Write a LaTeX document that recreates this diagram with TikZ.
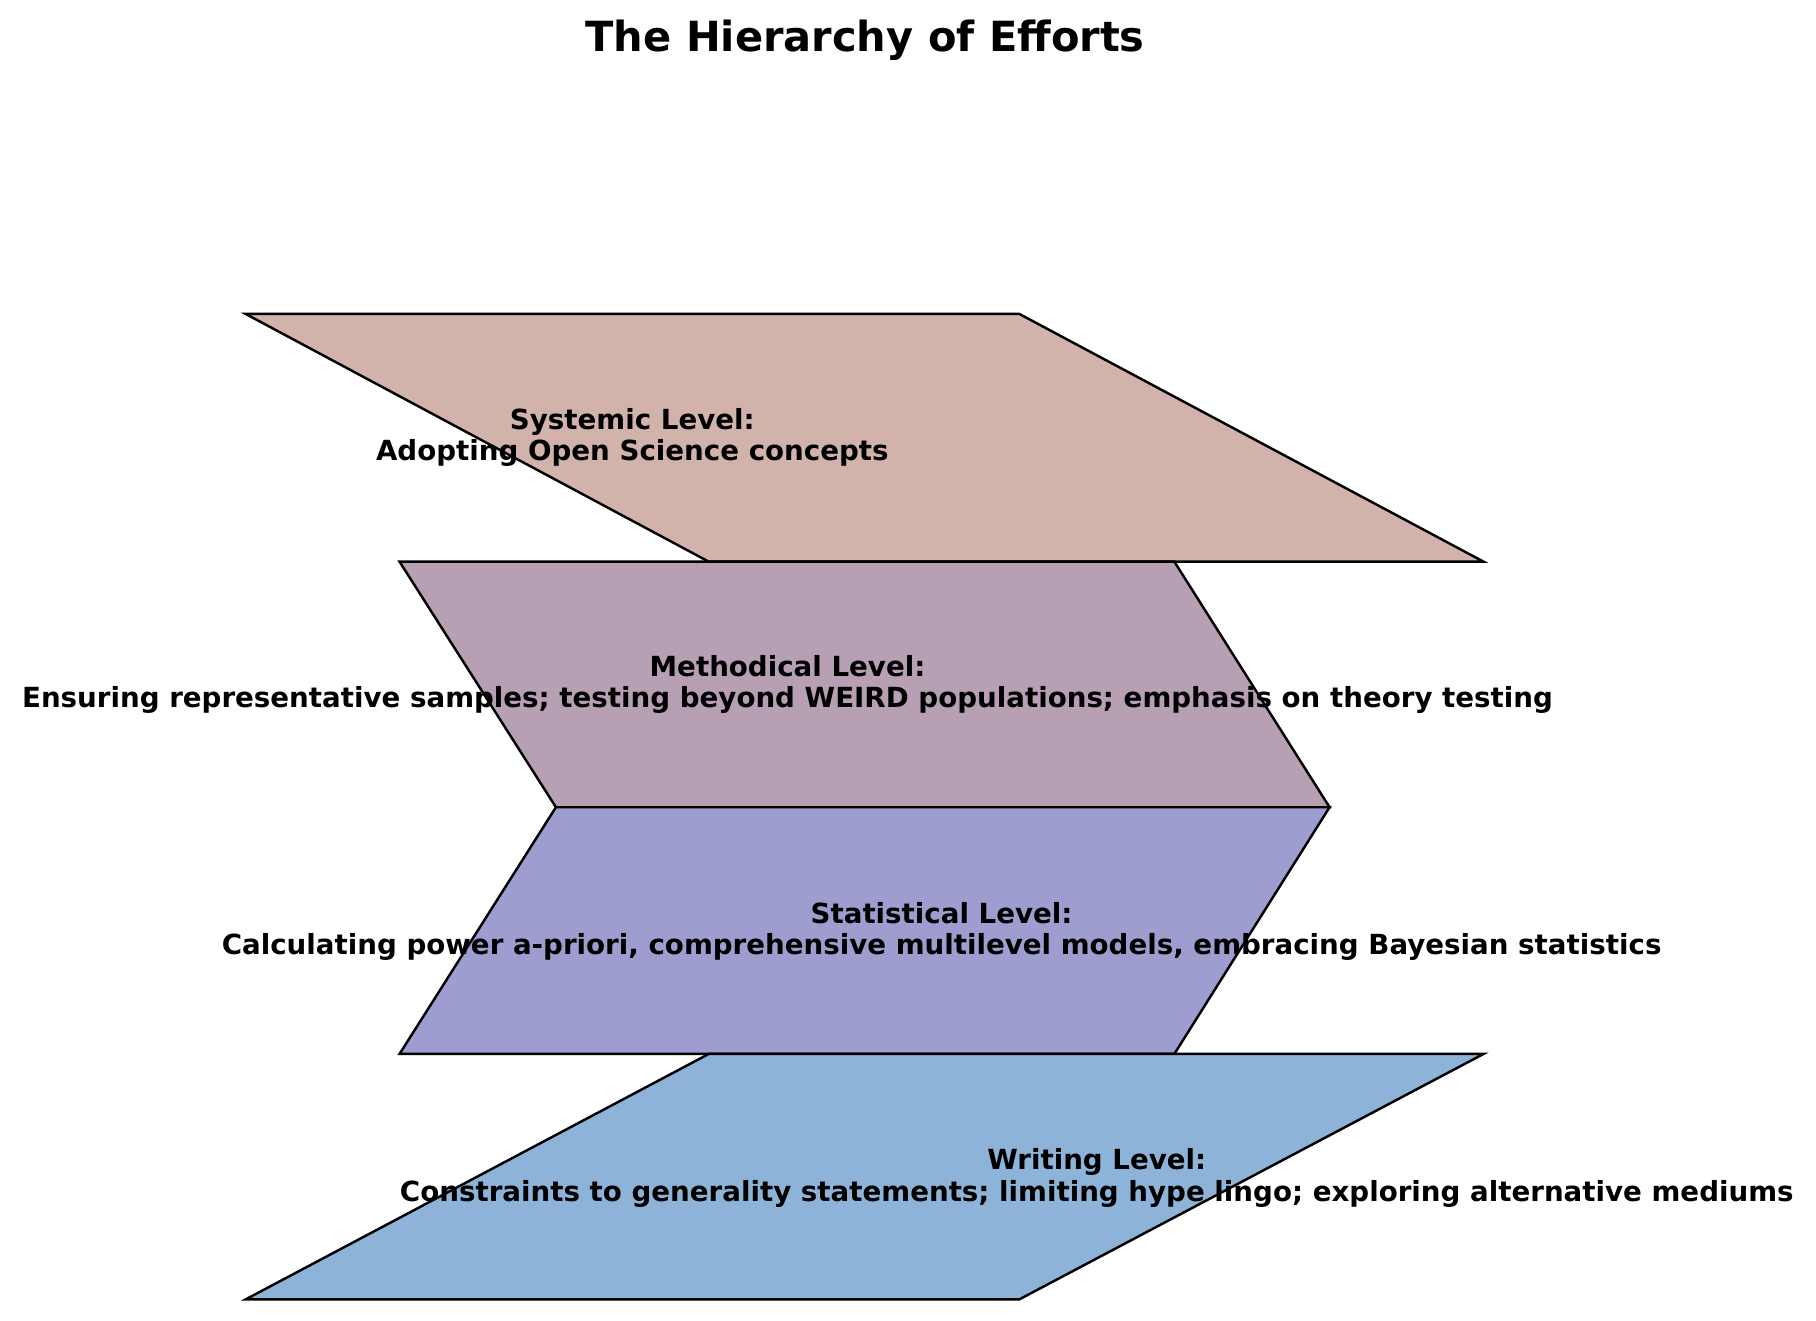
\documentclass[tikz,border=0pt]{standalone}
\usepackage{fontspec}
\setmainfont{DejaVu Sans}
\definecolor{sysclr}{HTML}{D2B3AB}
\definecolor{methclr}{HTML}{B7A0B3}
\definecolor{statclr}{HTML}{9D9DD0}
\definecolor{writeclr}{HTML}{8DB3D9}
\tikzset{
  levelbox/.style={draw=black, line width=0.6pt, line join=miter},
  leveltext/.style={font=\bfseries\fontsize{6.8}{7.7}\selectfont, align=center, inner sep=0pt},
}
\begin{document}
\begin{tikzpicture}[x=0.01cm, y=-0.01cm]
    \useasboundingbox (0, 0) rectangle (1568, 1140);
    %% title
    \draw (747, 35) node[font=\bfseries\fontsize{10.2}{12}\selectfont](title){The Hierarchy of Efforts} ;
    %% levels
    \draw[levelbox, fill=sysclr] (212, 271) -- (880, 271) -- (1281, 485) -- (612, 485) -- cycle ;
    \draw[levelbox, fill=methclr] (345, 485) -- (1014, 485) -- (1148, 697) -- (480, 697) -- cycle ;
    \draw[levelbox, fill=statclr] (480, 697) -- (1148, 697) -- (1014, 910) -- (345, 910) -- cycle ;
    \draw[levelbox, fill=writeclr] (612, 910) -- (1281, 910) -- (880, 1122) -- (212, 1122) -- cycle ;
    %% labels
    \draw (546, 378) node[leveltext](systemic){Systemic Level:\\Adopting Open Science concepts} ;
    \draw (680, 591) node[leveltext](methodical){Methodical Level:\\Ensuring representative samples; testing beyond WEIRD populations; emphasis on theory testing} ;
    \draw (813, 804) node[leveltext](statistical){Statistical Level:\\Calculating power a-priori, comprehensive multilevel models, embracing Bayesian statistics} ;
    \draw (947, 1017) node[leveltext](writing){Writing Level:\\Constraints to generality statements; limiting hype lingo; exploring alternative mediums} ;
\end{tikzpicture}
\end{document}
